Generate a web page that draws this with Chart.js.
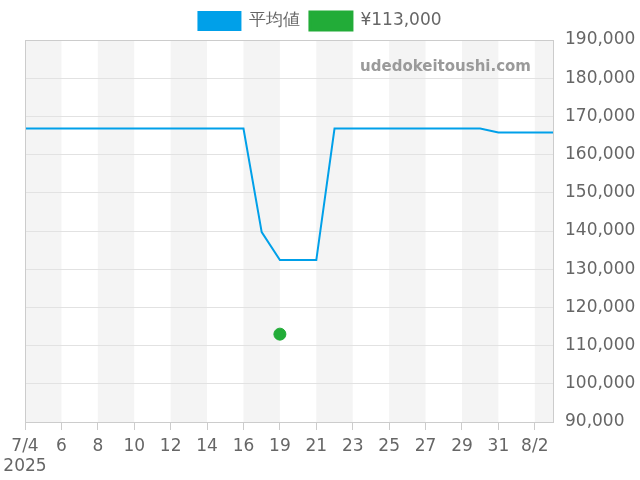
<!DOCTYPE html>
<html>
<head>
<meta charset="utf-8">
<script src="https://cdn.jsdelivr.net/npm/chart.js@4/dist/chart.umd.min.js"></script>
<style>
  html, body { margin: 0; padding: 0; background: #fff; }
  #wrap { width: 640px; height: 480px; }
</style>
</head>
<body>
<div id="wrap"><canvas id="chart"></canvas></div>
<script>
const LINE_BLUE = "#00a0e9";
const DOT_GREEN = "#22ac38";

// one day (7/17) has no record, so the category axis skips it
const days = [
    ["7/4", "2025"], "5", "6", "7", "8", "9", "10", "11", "12", "13", "14", "15", "16",
    "18", "19", "20", "21", "22", "23", "24", "25", "26", "27", "28", "29", "30", "31",
    "8/1", "8/2", "8/3"
];

const averagePrice = [
    166800, 166800, 166800, 166800, 166800, 166800, 166800, 166800, 166800, 166800,
    166800, 166800, 166800, 139700, 132400, 132400, 132400, 166800, 166800, 166800,
    166800, 166800, 166800, 166800, 166800, 166800, 165800, 165800, 165800, 165800
];

const salePrice = [
    null, null, null, null, null, null, null, null, null, null,
    null, null, null, null, 113000, null, null, null, null, null,
    null, null, null, null, null, null, null, null, null, null
];

const yTicks = [90000, 190000, 10000]; // min, max, step

// grey bands between every other labelled tick, plus site name
const bandsPlugin = {
    id: "bands",
    beforeDraw(chart) {
        const { ctx, chartArea, scales } = chart;
        const x = scales.x;
        ctx.save();
        ctx.fillStyle = "#f4f4f4";
        for (let i = 0; i < days.length; i += 4) {
            const left = x.getPixelForValue(i);
            const right = Math.min(x.getPixelForValue(i + 2), chartArea.right);
            ctx.fillRect(left, chartArea.top, right - left, chartArea.bottom - chartArea.top);
        }
        ctx.restore();
    },
    afterDatasetsDraw(chart) {
        const { ctx, chartArea } = chart;
        ctx.save();
        ctx.font = "bold 15px 'DejaVu Sans'";
        ctx.fillStyle = "#9a9a9a";
        ctx.textAlign = "right";
        ctx.textBaseline = "middle";
        ctx.fillText("udedokeitoushi.com", chartArea.right - 22, chartArea.top + 27);
        ctx.restore();
    }
};

new Chart(document.getElementById("chart"), {
    type: "line",
    data: {
        labels: days,
        datasets: [{
            label: "平均値",
            data: averagePrice,
            borderColor: LINE_BLUE,
            backgroundColor: LINE_BLUE,
            borderWidth: 2,
            pointRadius: 0,
            tension: 0
        }, {
            label: "¥113,000",
            data: salePrice,
            borderColor: DOT_GREEN,
            backgroundColor: DOT_GREEN,
            showLine: false,
            pointRadius: 6,
            pointHoverRadius: 6
        }]
    },
    options: {
        responsive: true,
        maintainAspectRatio: false,
        animation: false,
        layout: { padding: { top: 2, left: 0, right: 0, bottom: 0 } },
        plugins: {
            legend: {
                display: true,
                labels: {
                    boxWidth: 42,
                    boxHeight: 18,
                    color: "#666",
                    font: { family: "'DejaVu Sans'", size: 17 }
                }
            },
            tooltip: { enabled: false }
        },
        scales: {
            x: {
                offset: false,
                afterFit: scale => {
                    scale.height = 58;
                    scale.paddingLeft = 25;
                },
                grid: { display: true, drawOnChartArea: false, drawTicks: true, tickLength: 8, color: "#ccc" },
                border: { display: true, color: "#ccc" },
                ticks: {
                    autoSkip: false,
                    maxRotation: 0,
                    padding: 6,
                    color: "#666",
                    font: { family: "'DejaVu Sans'", size: 17 },
                    callback: function(value, index) {
                        return index % 2 === 0 && index < days.length - 1 ? days[index] : null;
                    }
                }
            },
            y: {
                position: "right",
                min: yTicks[0],
                max: yTicks[1],
                afterFit: scale => { scale.width = 87; },
                grid: { color: "#e2e2e2", drawTicks: false },
                border: { display: true, color: "#ccc" },
                ticks: {
                    stepSize: yTicks[2],
                    padding: 12,
                    color: "#666",
                    font: { family: "'DejaVu Sans'", size: 17 },
                    callback: v => v.toLocaleString("en-US")
                }
            }
        }
    },
    plugins: [bandsPlugin, {
        id: "frame",
        afterDraw(chart) {
            const { ctx, chartArea } = chart;
            ctx.save();
            ctx.strokeStyle = "#ccc";
            ctx.lineWidth = 1;
            ctx.strokeRect(chartArea.left + 0.5, chartArea.top + 0.5,
                chartArea.right - chartArea.left, chartArea.bottom - chartArea.top);
            ctx.restore();
        }
    }]
});
</script>
</body>
</html>
